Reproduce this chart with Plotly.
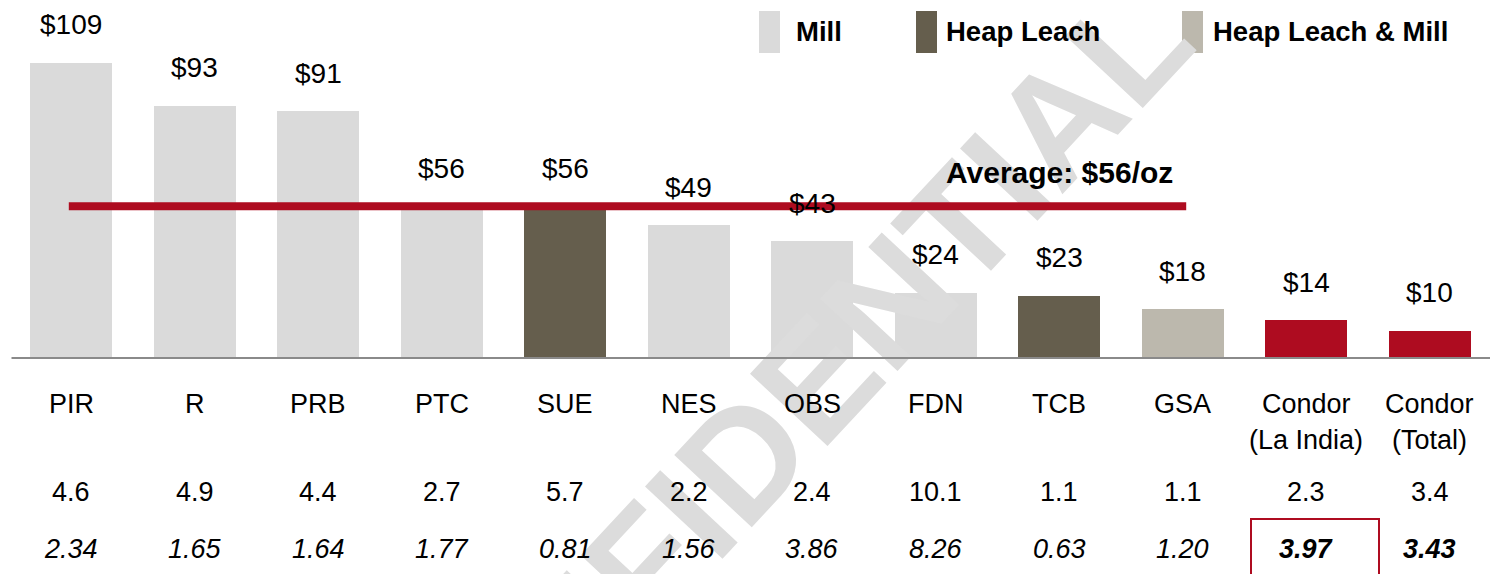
import plotly.graph_objects as go

# ---------------- data ----------------
categories = ["PIR", "R", "PRB", "PTC", "SUE", "NES", "OBS", "FDN", "TCB", "GSA",
              "Condor<br>(La India)", "Condor<br>(Total)"]
values = [109, 93, 91, 56, 56, 49, 43, 24, 23, 18, 14, 10]
process = ["Mill", "Mill", "Mill", "Mill", "Heap Leach", "Mill", "Mill", "Mill",
           "Heap Leach", "Heap Leach & Mill", "Condor", "Condor"]
row1 = ["4.6", "4.9", "4.4", "2.7", "5.7", "2.2", "2.4", "10.1", "1.1", "1.1", "2.3", "3.4"]
row2 = ["2.34", "1.65", "1.64", "1.77", "0.81", "1.56", "3.86", "8.26", "0.63", "1.20", "3.97", "3.43"]
average = 56
average_label = "Average: $56/oz"
legend_items = ["Mill", "Heap Leach", "Heap Leach & Mill"]
watermark = "CONFIDENTIAL"

# ---------------- style ----------------
colors = {"Mill": "#dadada", "Heap Leach": "#655e4d",
          "Heap Leach & Mill": "#bcb8ad", "Condor": "#ae0c20"}
RED = "#ae0c20"
FONT = "Liberation Sans, Arial, sans-serif"
W, H = 1493, 574
BASE = 358          # pixel row of the zero line
PPU = 2.71          # pixels per $/oz
STEP = 123.5        # pixels between category centres
X0 = 71             # pixel centre of first category

xs = list(range(len(categories)))

fig = go.Figure()
fig.add_trace(go.Bar(
    x=xs, y=values, width=82 / STEP,
    marker=dict(color=[colors[p] for p in process], line=dict(width=0)),
    hoverinfo="skip", showlegend=False,
))

def px2x(p):
    return (p - X0) / STEP

ann = []
# watermark (drawn first so everything else sits above it)
ann.append(dict(text="<b>" + watermark + "</b>", xref="paper", yref="paper",
                x=770 / W, y=1 - 430 / H, xanchor="center", yanchor="middle",
                textangle=-47, showarrow=False,
                font=dict(family="Liberation Sans, Arial", size=154, color="#dcdcdc")))
# baseline
ann.append(dict(x=px2x(1490), y=0, ax=px2x(10), ay=0, axref="x", ayref="y",
                xref="x", yref="y", text="", showarrow=True, arrowhead=0,
                arrowwidth=2.2, arrowcolor="#8a8a8a", standoff=0, startstandoff=0))
# average line from first to tenth category
ann.append(dict(x=xs[9] + 0.03, y=average, ax=xs[0] - 0.03, ay=average, axref="x", ayref="y",
                xref="x", yref="y", text="", showarrow=True, arrowhead=0,
                arrowwidth=8, arrowcolor=RED, standoff=0, startstandoff=0))
ann.append(dict(text="<b>" + average_label + "</b>", x=px2x(944), y=average, xref="x", yref="y",
                xanchor="left", yanchor="middle", yshift=34, showarrow=False,
                font=dict(family=FONT, size=30, color="black")))

for i, (c, v, r1, r2) in enumerate(zip(categories, values, row1, row2)):
    ann.append(dict(text="$%d" % v, x=i, y=v, xref="x", yref="y", yanchor="middle",
                    yshift=38, showarrow=False, font=dict(family=FONT, size=28, color="black")))
    for k, line in enumerate(c.split("<br>")):
        ann.append(dict(text=line, x=i, y=0, xref="x", yref="y", yanchor="middle",
                        yshift=-(404 + 36 * k - BASE), showarrow=False,
                        font=dict(family=FONT, size=27, color="black")))
    ann.append(dict(text=r1, x=i, y=0, xref="x", yref="y", yanchor="middle",
                    yshift=-(492 - BASE), showarrow=False,
                    font=dict(family=FONT, size=27, color="black")))
    t2 = "<i>%s</i>" % r2
    if process[i] == "Condor":
        t2 = "<b><i>%s</i></b>" % r2
    ann.append(dict(text=t2, x=i, y=0, xref="x", yref="y", yanchor="middle",
                    yshift=-(549 - BASE), showarrow=False,
                    font=dict(family=FONT, size=27, color="black")))

# legend
shapes = []
leg_rect = [759, 916, 1182]
leg_text = [794, 944, 1211]
for name, rx, tx in zip(legend_items, leg_rect, leg_text):
    shapes.append(dict(type="rect", xref="paper", yref="paper",
                       x0=rx / W, x1=(rx + 21) / W, y0=1 - 53 / H, y1=1 - 11 / H,
                       fillcolor=colors[name], line=dict(width=0)))
    ann.append(dict(text="<b>%s</b>" % name, xref="paper", yref="paper",
                    x=tx / W, y=1 - 32 / H, xanchor="left", yanchor="middle",
                    showarrow=False, font=dict(family=FONT, size=27.5, color="black")))

# highlight box around Condor (La India) second-row value
shapes.append(dict(type="rect", xref="paper", yref="paper",
                   x0=1251 / W, x1=1379 / W, y0=-0.05, y1=1 - 519 / H,
                   fillcolor="rgba(0,0,0,0)", line=dict(color=RED, width=2)))

fig.update_layout(
    width=W, height=H, margin=dict(l=0, r=0, t=0, b=0),
    paper_bgcolor="white", plot_bgcolor="white",
    xaxis=dict(range=[px2x(0), px2x(W)], visible=False, fixedrange=True),
    yaxis=dict(range=[-(H - BASE) / PPU, BASE / PPU], visible=False, fixedrange=True),
    annotations=ann, shapes=shapes, bargap=0, showlegend=False,
)

fig.write_html("out.html", config={"displayModeBar": False},
               post_script="document.body.style.margin='0px';document.body.style.overflow='hidden';")
